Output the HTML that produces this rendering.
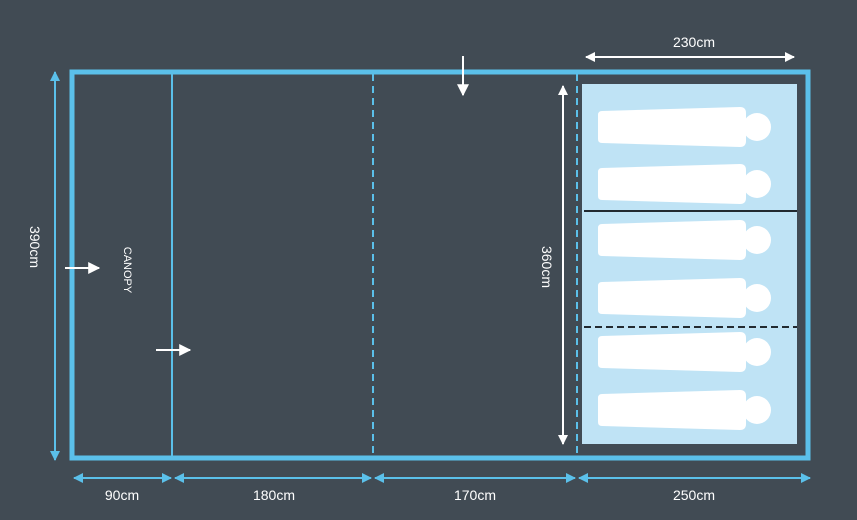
<!DOCTYPE html>
<html><head><style>
html,body{margin:0;padding:0;background:#414b54;}
svg{display:block}
text{font-family:"Liberation Sans",sans-serif;fill:#fff;font-size:14px;}
</style></head><body>
<svg width="857" height="520" viewBox="0 0 857 520" xmlns="http://www.w3.org/2000/svg">
<defs>
<marker id="ab" viewBox="0 0 10 10" refX="9" refY="5" markerWidth="5" markerHeight="5" orient="auto-start-reverse"><path d="M0,0L10,5L0,10z" fill="#5bc0ea"/></marker>
<marker id="aw" viewBox="0 0 10 10" refX="9" refY="5" markerWidth="5" markerHeight="5" orient="auto-start-reverse"><path d="M0,0L10,5L0,10z" fill="#fff"/></marker>
<marker id="aw2" viewBox="0 0 10 10" refX="9" refY="5" markerWidth="6" markerHeight="6" orient="auto-start-reverse"><path d="M0,0L10,5L0,10z" fill="#fff"/></marker>
<g id="bag"><path d="M602,-16 L740,-20 Q746,-20 746,-14 L746,14 Q746,20 740,20 L602,16 Q598,16 598,12 L598,-12 Q598,-16 602,-16Z" fill="#fff"/><circle cx="757" cy="0" r="14" fill="#fff"/></g>
</defs>
<rect x="72" y="72" width="736" height="386" fill="none" stroke="#5bc0ea" stroke-width="5"/>
<rect x="582" y="84" width="215" height="360" fill="#bfe3f5"/>
<line x1="584" y1="211" x2="797" y2="211" stroke="#222a30" stroke-width="2"/>
<line x1="584" y1="327" x2="797" y2="327" stroke="#222a30" stroke-width="2" stroke-dasharray="7,4"/>
<use href="#bag" y="127"/><use href="#bag" y="184"/><use href="#bag" y="240"/><use href="#bag" y="298"/><use href="#bag" y="352"/><use href="#bag" y="410"/>
<line x1="172" y1="74" x2="172" y2="456" stroke="#5bc0ea" stroke-width="2"/>
<line x1="373" y1="74" x2="373" y2="456" stroke="#5bc0ea" stroke-width="2" stroke-dasharray="7,5"/>
<line x1="577" y1="74" x2="577" y2="456" stroke="#5bc0ea" stroke-width="2" stroke-dasharray="7,5"/>
<line x1="55" y1="72" x2="55" y2="460" stroke="#5bc0ea" stroke-width="2" marker-start="url(#ab)" marker-end="url(#ab)"/>
<line x1="563" y1="86" x2="563" y2="444" stroke="#fff" stroke-width="2" marker-start="url(#aw)" marker-end="url(#aw)"/>
<line x1="586" y1="57" x2="794" y2="57" stroke="#fff" stroke-width="2" marker-start="url(#aw)" marker-end="url(#aw)"/>
<line x1="74" y1="478" x2="171" y2="478" stroke="#5bc0ea" stroke-width="2" marker-start="url(#ab)" marker-end="url(#ab)"/>
<line x1="175" y1="478" x2="371" y2="478" stroke="#5bc0ea" stroke-width="2" marker-start="url(#ab)" marker-end="url(#ab)"/>
<line x1="375" y1="478" x2="575" y2="478" stroke="#5bc0ea" stroke-width="2" marker-start="url(#ab)" marker-end="url(#ab)"/>
<line x1="579" y1="478" x2="810" y2="478" stroke="#5bc0ea" stroke-width="2" marker-start="url(#ab)" marker-end="url(#ab)"/>
<line x1="65" y1="268" x2="99" y2="268" stroke="#fff" stroke-width="2" marker-end="url(#aw2)"/>
<line x1="156" y1="350" x2="190" y2="350" stroke="#fff" stroke-width="2" marker-end="url(#aw2)"/>
<line x1="463" y1="56" x2="463" y2="95" stroke="#fff" stroke-width="2" marker-end="url(#aw2)"/>
<text x="694" y="47" text-anchor="middle">230cm</text>
<text x="122" y="500" text-anchor="middle">90cm</text>
<text x="274" y="500" text-anchor="middle">180cm</text>
<text x="475" y="500" text-anchor="middle">170cm</text>
<text x="694" y="500" text-anchor="middle">250cm</text>
<text transform="translate(30,247) rotate(90)" text-anchor="middle">390cm</text>
<text transform="translate(542,267) rotate(90)" text-anchor="middle">360cm</text>
<text transform="translate(124,270) rotate(90)" text-anchor="middle" style="font-size:11px">CANOPY</text>
</svg>
</body></html>
